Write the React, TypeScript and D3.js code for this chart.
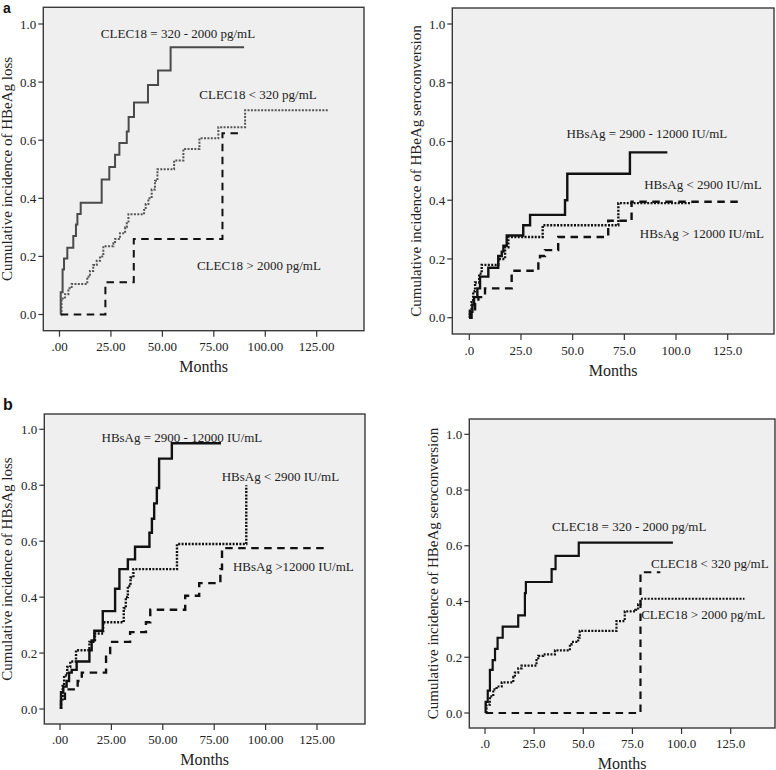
import React from 'react';
import * as d3 from 'd3';

// tick values shared by all four panels
const monthTicks = [0, 25, 50, 75, 100, 125];
const probTicks = [0, 0.2, 0.4, 0.6, 0.8, 1.0];

// panel a (top left): HBeAg loss by CLEC18
const aMidTimes = [0.6, 0.6, 1.5, 2.2, 3.8, 6.7, 8.0, 8.7, 10.3, 20.5, 24.2, 27, 29.1, 32.7, 33.6, 36.2, 43, 47.9, 54, 89.7];
const aMidValues = [0, 0.077, 0.155, 0.193, 0.23, 0.27, 0.31, 0.346, 0.385, 0.465, 0.508, 0.55, 0.59, 0.63, 0.68, 0.73, 0.79, 0.84, 0.92, 0.92];
const aLowTimes = [0.6, 1.0, 2.7, 4.3, 5.9, 13.5, 14.8, 16.4, 18.1, 19.7, 21.3, 26.2, 27, 29.4, 31.9, 32.7, 33.5, 41.1, 41.9, 43.2, 44.8, 46.4, 47.6, 55.7, 60.2, 68, 77.2, 90.2, 130.8];
const aLowValues = [0, 0.055, 0.07, 0.09, 0.105, 0.13, 0.15, 0.17, 0.185, 0.2, 0.235, 0.245, 0.26, 0.28, 0.3, 0.32, 0.345, 0.36, 0.38, 0.4, 0.43, 0.46, 0.5, 0.53, 0.57, 0.607, 0.645, 0.703, 0.703];
const aHighTimes = [0.6, 22.3, 36.1, 79.2, 87.8];
const aHighValues = [0, 0.111, 0.26, 0.624, 0.624];

// panel a (top right): HBeAg seroconversion by HBsAg
const bMidTimes = [0, 0.3, 1.5, 2.3, 3.9, 5.2, 9.2, 14.0, 15.7, 16.5, 18.1, 26.1, 29.4, 46.3, 47.4, 77.7, 95.8];
const bMidValues = [0, 0.02, 0.045, 0.07, 0.1, 0.14, 0.17, 0.21, 0.225, 0.245, 0.28, 0.315, 0.35, 0.4, 0.49, 0.563, 0.563];
const bLowTimes = [0, 0.3, 1.1, 1.9, 2.8, 4.8, 6.0, 14, 17.3, 18.9, 35.5, 72.1, 107.5];
const bLowValues = [0, 0.03, 0.06, 0.09, 0.12, 0.15, 0.18, 0.2, 0.24, 0.275, 0.315, 0.39, 0.39];
const bHighTimes = [0, 1.1, 2.8, 4.4, 7.6, 20.5, 33.4, 34.2, 36.6, 43.0, 67.2, 78.5, 131.7];
const bHighValues = [0, 0.02, 0.05, 0.07, 0.1, 0.16, 0.19, 0.21, 0.23, 0.275, 0.33, 0.395, 0.395];

// panel b (bottom left): HBsAg loss by HBsAg
const cMidTimes = [0.5, 0.5, 1.6, 3.2, 4.4, 5.7, 8.1, 14.3, 15.4, 16.7, 20.8, 26.8, 28.9, 33, 36.5, 43.5, 44.7, 45.8, 47.1, 48.2, 54.4, 78.3];
const cMidValues = [0, 0.06, 0.08, 0.1, 0.13, 0.14, 0.17, 0.21, 0.245, 0.28, 0.35, 0.43, 0.5, 0.535, 0.58, 0.63, 0.68, 0.735, 0.79, 0.895, 0.95, 0.95];
const cLowTimes = [0.5, 0.5, 1.3, 2.0, 3.5, 5, 7.8, 14.3, 17, 21, 31, 32, 33, 34.3, 35.7, 56.9, 90.6];
const cLowValues = [0, 0.03, 0.09, 0.12, 0.15, 0.17, 0.21, 0.24, 0.27, 0.31, 0.36, 0.4, 0.44, 0.47, 0.5, 0.59, 0.8];
const cHighTimes = [0.5, 0.5, 2.4, 8.6, 10.6, 22.4, 24.4, 34.1, 41.8, 43.9, 60.9, 67.7, 78, 78.8, 130];
const cHighValues = [0, 0.03, 0.07, 0.1, 0.13, 0.2, 0.24, 0.275, 0.31, 0.355, 0.405, 0.45, 0.5, 0.575, 0.575];

// panel b (bottom right): HBeAg seroconversion by CLEC18
const dMidTimes = [0.3, 0.3, 1.4, 2.5, 3.9, 5.1, 6.4, 9.0, 16.9, 20.3, 20.8, 33.9, 35.9, 47.7, 95.6];
const dMidValues = [0, 0.04, 0.08, 0.155, 0.19, 0.23, 0.27, 0.31, 0.35, 0.43, 0.47, 0.516, 0.564, 0.611, 0.611];
const dLowTimes = [0.8, 0.8, 2.5, 4.2, 5.9, 8.5, 14.4, 15.2, 16.9, 18.6, 26.2, 27.1, 29.6, 35.6, 43.2, 44, 47.4, 48.2, 66.9, 71.1, 76.5, 77.9, 79.1, 132];
const dLowValues = [0, 0.03, 0.06, 0.085, 0.095, 0.11, 0.13, 0.145, 0.16, 0.17, 0.19, 0.205, 0.21, 0.225, 0.245, 0.255, 0.27, 0.295, 0.33, 0.365, 0.37, 0.39, 0.41, 0.41];
const dHighTimes = [0.3, 79.1, 89.2];
const dHighValues = [0, 0.505, 0.505];

const DOTTED = '2,1.4';
const DASHED = '7.5,5.5';

const panels = [
  {
    box: { left: 43.3, top: 7.3, right: 364, bottom: 330.7 },
    x: [59.5, 316.7], y: [314.5, 24],
    xFmt: (d: number) => (d === 0 ? '.00' : d.toFixed(2)),
    tickBase: 351, monthsBase: 372, titleX: 12,
    title: 'Cumulative incidence of HBeAg loss',
    width: 2,
    series: [
      { t: aMidTimes, v: aMidValues, dash: null, color: '#4a4a4a' },
      { t: aLowTimes, v: aLowValues, dash: DOTTED, color: '#555' },
      { t: aHighTimes, v: aHighValues, dash: DASHED, color: '#111' },
    ],
    notes: [
      { text: 'CLEC18 = 320 - 2000 pg/mL', t: 57.6, v: 0.969 },
      { text: 'CLEC18 < 320 pg/mL', t: 96.5, v: 0.756 },
      { text: 'CLEC18 > 2000 pg/mL', t: 96.9, v: 0.17 },
    ],
  },
  {
    box: { left: 452.3, top: 8, right: 774, bottom: 334 },
    x: [469.3, 727.7], y: [317.7, 24],
    xFmt: (d: number) => (d === 0 ? '.0' : d.toFixed(1)),
    tickBase: 355, monthsBase: 376, titleX: 421,
    title: 'Cumulative incidence of HBeAg seroconversion',
    width: 2.4,
    series: [
      { t: bMidTimes, v: bMidValues, dash: null, color: '#111' },
      { t: bLowTimes, v: bLowValues, dash: DOTTED, color: '#111' },
      { t: bHighTimes, v: bHighValues, dash: DASHED, color: '#111' },
    ],
    notes: [
      { text: 'HBsAg = 2900 - 12000 IU/mL', t: 85.9, v: 0.629 },
      { text: 'HBsAg < 2900 IU/mL', t: 113, v: 0.452 },
      { text: 'HBsAg > 12000 IU/mL', t: 112.5, v: 0.288 },
    ],
  },
  {
    box: { left: 44.3, top: 414, right: 365, bottom: 724 },
    x: [60, 317], y: [709, 429.3],
    xFmt: (d: number) => (d === 0 ? '.00' : d.toFixed(2)),
    tickBase: 744, monthsBase: 765, titleX: 12,
    title: 'Cumulative incidence of HBsAg loss',
    width: 2.4,
    series: [
      { t: cMidTimes, v: cMidValues, dash: null, color: '#111' },
      { t: cLowTimes, v: cLowValues, dash: DOTTED, color: '#111' },
      { t: cHighTimes, v: cHighValues, dash: DASHED, color: '#111' },
    ],
    notes: [
      { text: 'HBsAg = 2900 - 12000 IU/mL', t: 59.3, v: 0.972 },
      { text: 'HBsAg < 2900 IU/mL', t: 107.2, v: 0.833 },
      { text: 'HBsAg >12000 IU/mL', t: 113.5, v: 0.508 },
    ],
  },
  {
    box: { left: 469.3, top: 419, right: 775, bottom: 728 },
    x: [485, 730.7], y: [713, 434.3],
    xFmt: (d: number) => (d === 0 ? '.0' : d.toFixed(1)),
    tickBase: 748, monthsBase: 768.5, titleX: 438,
    title: 'Cumulative incidence of HBeAg seroconversion',
    width: 2.2,
    series: [
      { t: dMidTimes, v: dMidValues, dash: null, color: '#111' },
      { t: dLowTimes, v: dLowValues, dash: DOTTED, color: '#111' },
      { t: dHighTimes, v: dHighValues, dash: DASHED, color: '#111' },
    ],
    notes: [
      { text: 'CLEC18 = 320 - 2000 pg/mL', t: 73.4, v: 0.668 },
      { text: 'CLEC18 < 320 pg/mL', t: 114.4, v: 0.538 },
      { text: 'CLEC18 > 2000 pg/mL', t: 111, v: 0.352 },
    ],
  },
];

const SERIF = '"Liberation Serif", "Times New Roman", serif';
const SANS = '"Liberation Sans", Arial, sans-serif';

function Panel({ p }: { p: any }) {
  const xScale = d3.scaleLinear().domain([0, 125]).range(p.x);
  const yScale = d3.scaleLinear().domain([0, 1]).range(p.y);
  const line = d3.line<[number, number]>()
    .x(d => xScale(d[0]))
    .y(d => yScale(d[1]))
    .curve(d3.curveStepAfter);
  const { left, top, right, bottom } = p.box;
  const midY = (top + bottom) / 2;
  const midX = (left + right) / 2;

  return (
    <g fontFamily={SERIF} fill="#222">
      <rect x={left} y={top} width={right - left} height={bottom - top}
        fill="#efefef" stroke="#3a3a3a" strokeWidth={1.4} />
      {probTicks.map(t => (
        <g key={'y' + t}>
          <line x1={left - 5} x2={left} y1={yScale(t)} y2={yScale(t)} stroke="#333" strokeWidth={1.2} />
          <text x={left - 7} y={yScale(t)} dy="0.35em" textAnchor="end" fontSize={13}>{t.toFixed(1)}</text>
        </g>
      ))}
      {monthTicks.map(t => (
        <g key={'x' + t}>
          <line x1={xScale(t)} x2={xScale(t)} y1={bottom} y2={bottom + 6} stroke="#333" strokeWidth={1.2} />
          <text x={xScale(t)} y={p.tickBase} textAnchor="middle" fontSize={13}>{p.xFmt(t)}</text>
        </g>
      ))}
      <text x={midX} y={p.monthsBase} textAnchor="middle" fontSize={16}>Months</text>
      <text transform={`translate(${p.titleX},${midY}) rotate(-90)`} textAnchor="middle" fontSize={15}>{p.title}</text>
      {p.series.map((s: any, i: number) => (
        <path key={i} d={line(s.t.map((t: number, j: number) => [t, s.v[j]]) as [number, number][]) || ''}
          fill="none" stroke={s.color} strokeWidth={p.width}
          strokeDasharray={s.dash || undefined} />
      ))}
      {p.notes.map((n: any) => (
        <text key={n.text} x={xScale(n.t)} y={yScale(n.v)} dy="0.35em" textAnchor="middle" fontSize={13}>{n.text}</text>
      ))}
    </g>
  );
}

export default function App() {
  return (
    <div style={{ position: 'absolute', left: 0, top: 0 }}>
      <svg width={776} height={770} style={{ display: 'block', background: '#fff' }}>
        <text x={3} y={13} fontFamily={SANS} fontWeight="bold" fontSize={14} fill="#111">a</text>
        <text x={3} y={410} fontFamily={SANS} fontWeight="bold" fontSize={16} fill="#111">b</text>
        {panels.map((p, i) => <Panel key={i} p={p} />)}
      </svg>
    </div>
  );
}
